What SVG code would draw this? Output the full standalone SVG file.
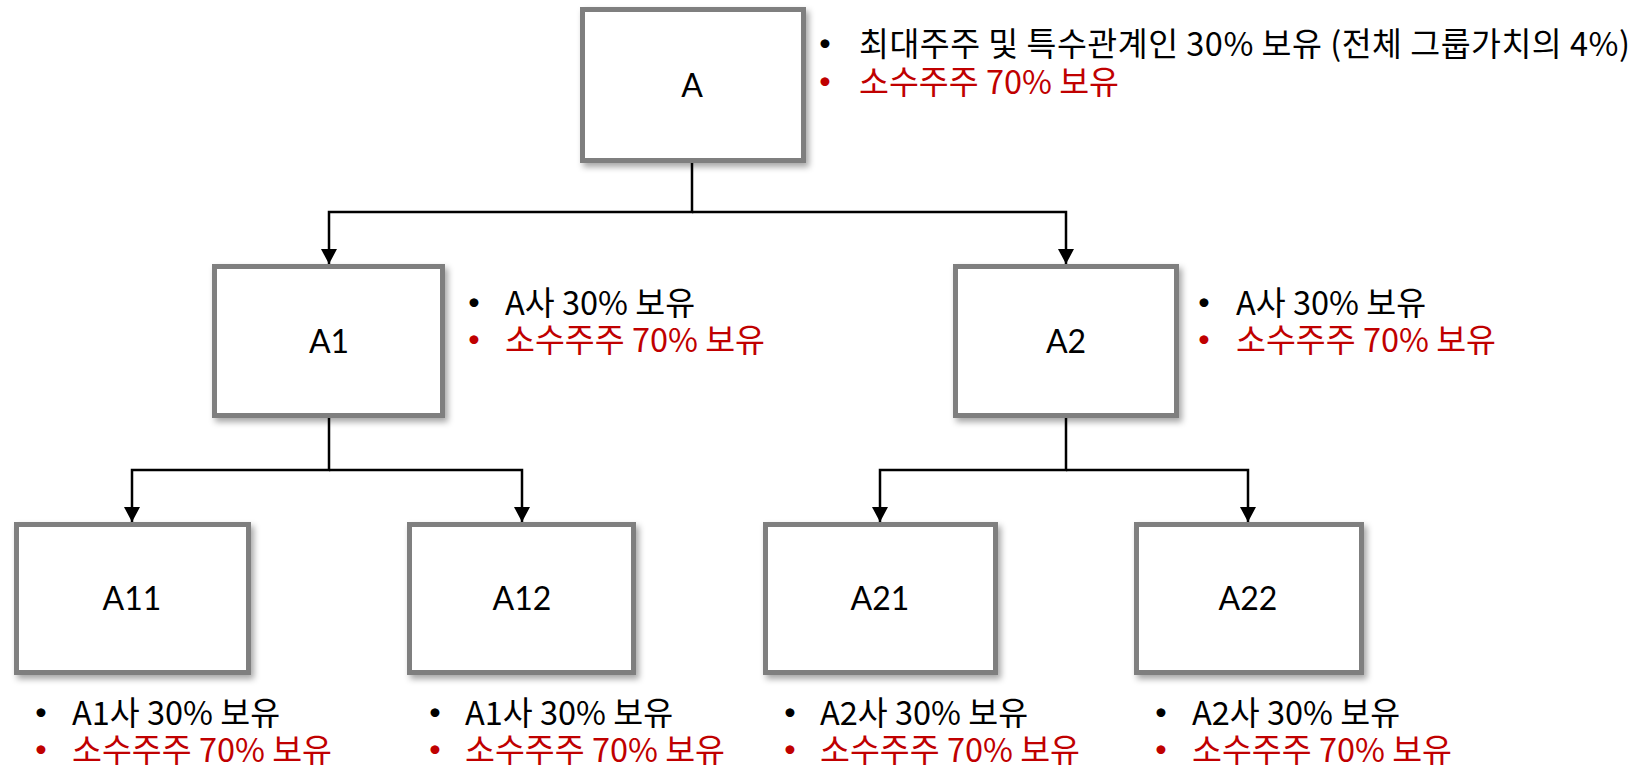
<svg xmlns="http://www.w3.org/2000/svg" width="1651" height="769" viewBox="0 0 1651 769">
  <style>
    .box { fill: #ffffff; stroke: #7f7f7f; stroke-width: 5; filter: url(#shadow); }
    .lbl { font-family: Lato, "Noto Sans CJK KR", sans-serif; font-size: 32px; fill: #000000; text-anchor: middle; }
    .note { font-family: "Noto Sans CJK KR", "Noto Sans", sans-serif; font-size: 32.5px; }
    .dot { font-family: Lato, "Noto Sans", sans-serif; font-size: 24px; text-anchor: middle; }
    .k { fill: #000000; }
    .r { fill: #c00000; }
    .wire { fill: none; stroke: #000000; stroke-width: 2.5; }
  </style>
  <defs>
    <filter id="shadow" x="-10%" y="-10%" width="125%" height="125%">
      <feDropShadow dx="3" dy="4" stdDeviation="3" flood-color="#000000" flood-opacity="0.35"/>
    </filter>
    <marker id="arrow" markerUnits="userSpaceOnUse" markerWidth="15" markerHeight="16" refX="15" refY="8" orient="auto">
      <path d="M0,0 L15,8 L0,16 z" fill="#000000"/>
    </marker>
  </defs>

  <rect width="1651" height="769" fill="#ffffff"/>

  <!-- connectors -->
  <g id="connectors" class="wire">
    <path d="M692,163 V212 H329 V264" marker-end="url(#arrow)"/>
    <path d="M692,212 H1066 V264" marker-end="url(#arrow)"/>
    <path d="M329,418 V470 H132 V522" marker-end="url(#arrow)"/>
    <path d="M329,470 H522 V522" marker-end="url(#arrow)"/>
    <path d="M1066,418 V470 H880 V522" marker-end="url(#arrow)"/>
    <path d="M1066,470 H1248 V522" marker-end="url(#arrow)"/>
  </g>

  <!-- top company -->
  <g id="node-A">
    <rect class="box" x="582.5" y="9.5" width="221" height="151"/>
    <text class="lbl" x="692" y="97">A</text>
    <text class="dot k" x="825" y="51">•</text>
    <text class="note k" x="859" y="56" textLength="771" lengthAdjust="spacing">최대주주 및 특수관계인 30% 보유 (전체 그룹가치의 4%)</text>
    <text class="dot r" x="825" y="89">•</text>
    <text class="note r" x="859" y="94">소수주주 70% 보유</text>
  </g>

  <!-- second tier -->
  <g id="node-A1">
    <rect class="box" x="214.5" y="266.5" width="228" height="149"/>
    <text class="lbl" x="329" y="353">A1</text>
    <text class="dot k" x="474" y="310">•</text>
    <text class="note k" x="505" y="315">A사 30% 보유</text>
    <text class="dot r" x="474" y="347">•</text>
    <text class="note r" x="505" y="352">소수주주 70% 보유</text>
  </g>

  <g id="node-A2">
    <rect class="box" x="955.5" y="266.5" width="221" height="149"/>
    <text class="lbl" x="1066" y="353">A2</text>
    <text class="dot k" x="1204" y="310">•</text>
    <text class="note k" x="1236" y="315">A사 30% 보유</text>
    <text class="dot r" x="1204" y="347">•</text>
    <text class="note r" x="1236" y="352">소수주주 70% 보유</text>
  </g>

  <!-- third tier -->
  <g id="node-A11">
    <rect class="box" x="16.5" y="524.5" width="232" height="148"/>
    <text class="lbl" x="132" y="610">A11</text>
    <text class="dot k" x="41" y="720">•</text>
    <text class="note k" x="72" y="725">A1사 30% 보유</text>
    <text class="dot r" x="41" y="757">•</text>
    <text class="note r" x="72" y="762">소수주주 70% 보유</text>
  </g>

  <g id="node-A12">
    <rect class="box" x="409.5" y="524.5" width="224" height="148"/>
    <text class="lbl" x="522" y="610">A12</text>
    <text class="dot k" x="435" y="720">•</text>
    <text class="note k" x="465" y="725">A1사 30% 보유</text>
    <text class="dot r" x="435" y="757">•</text>
    <text class="note r" x="465" y="762">소수주주 70% 보유</text>
  </g>

  <g id="node-A21">
    <rect class="box" x="765.5" y="524.5" width="230" height="148"/>
    <text class="lbl" x="880" y="610">A21</text>
    <text class="dot k" x="790" y="720">•</text>
    <text class="note k" x="820" y="725">A2사 30% 보유</text>
    <text class="dot r" x="790" y="757">•</text>
    <text class="note r" x="820" y="762">소수주주 70% 보유</text>
  </g>

  <g id="node-A22">
    <rect class="box" x="1136.5" y="524.5" width="225" height="148"/>
    <text class="lbl" x="1248" y="610">A22</text>
    <text class="dot k" x="1161" y="720">•</text>
    <text class="note k" x="1192" y="725">A2사 30% 보유</text>
    <text class="dot r" x="1161" y="757">•</text>
    <text class="note r" x="1192" y="762">소수주주 70% 보유</text>
  </g>
</svg>
